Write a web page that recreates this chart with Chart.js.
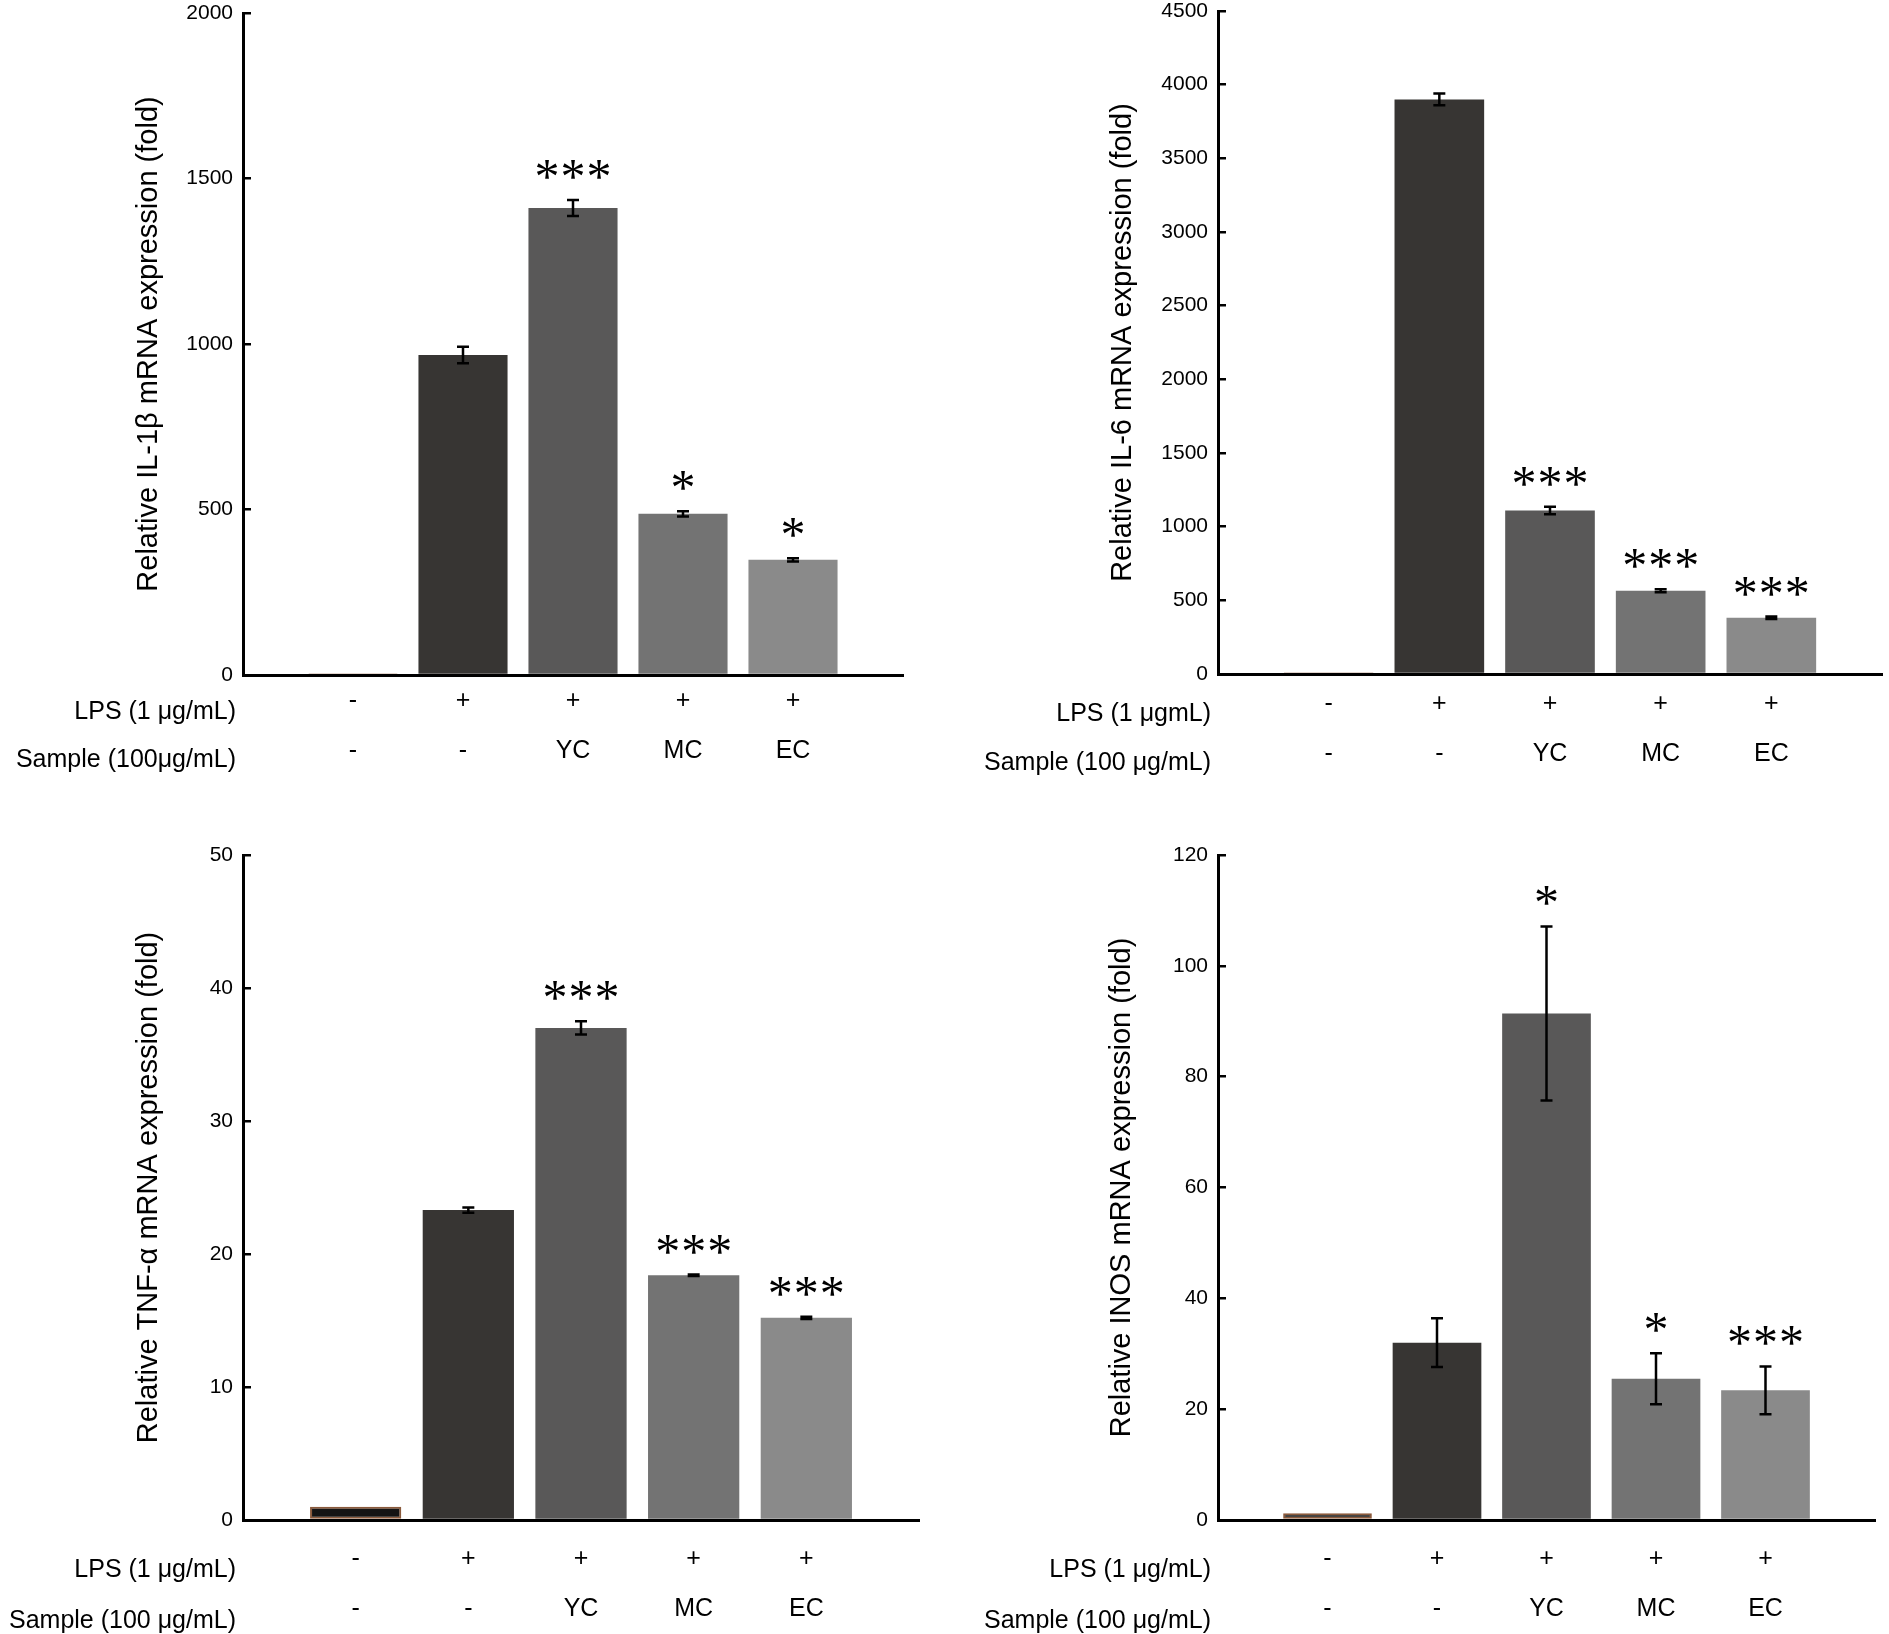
<!DOCTYPE html>
<html>
<head>
<meta charset="utf-8">
<script src="https://cdn.jsdelivr.net/npm/chart.js@4.4.1/dist/chart.umd.min.js"></script>
<style>
    body { margin: 0; background: #fff; width: 1889px; height: 1634px; position: relative; overflow: hidden; }
    .panel { position: absolute; }
</style>
</head>
<body>
<div class="panel" style="left:0;top:0"><canvas id="chart-il1b" width="945" height="810"></canvas></div>
<div class="panel" style="left:945px;top:0"><canvas id="chart-il6" width="944" height="810"></canvas></div>
<div class="panel" style="left:0;top:810px"><canvas id="chart-tnf" width="945" height="824"></canvas></div>
<div class="panel" style="left:945px;top:810px"><canvas id="chart-inos" width="944" height="824"></canvas></div>
<script>
// groups, left to right
const groups = ['Control', 'LPS', 'LPS+YC', 'LPS+MC', 'LPS+EC'];
const lpsRow = ['-', '+', '+', '+', '+'];
const sampleRow = ['-', '-', 'YC', 'MC', 'EC'];
const barColors = ['#141414', '#373533', '#595858', '#737373', '#8a8a8a'];

const il1bValues = [5, 967, 1411, 487, 348];
const il1bErrors = [0, 25, 24, 8, 5];
const il1bStars = ['', '', '***', '*', '*'];
const il1bTicks = [0, 500, 1000, 1500, 2000];

const il6Values = [12, 3900, 1110, 565, 382];
const il6Errors = [0, 40, 25, 10, 8];
const il6Stars = ['', '', '***', '***', '***'];
const il6Ticks = [0, 500, 1000, 1500, 2000, 2500, 3000, 3500, 4000, 4500];

const tnfValues = [1.0, 23.3, 37.0, 18.4, 15.2];
const tnfErrors = [0, 0.2, 0.5, 0.05, 0.08];
const tnfStars = ['', '', '***', '***', '***'];
const tnfTicks = [0, 10, 20, 30, 40, 50];

const inosValues = [1.2, 32.0, 91.4, 25.5, 23.4];
const inosErrors = [0, 4.4, 15.7, 4.6, 4.3];
const inosStars = ['', '', '*', '*', '***'];
const inosTicks = [0, 20, 40, 60, 80, 100, 120];

const sansFamily = '"Liberation Sans", Arial, sans-serif';

// error bars, significance stars and the row titles left of the x labels
const annotatePlugin = {
    id: 'annotate',
    afterDatasetsDraw(chart, _args, opts) {
        const { ctx, chartArea } = chart;
        const yScale = chart.scales.y;
        const xScale = chart.scales.x;
        const meta = chart.getDatasetMeta(0);

        ctx.save();
        meta.data.forEach((bar, i) => {
            const k = i - 1;
            if (k < 0 || k >= opts.values.length) return;
            const value = opts.values[k];
            const err = opts.errors[k];
            const top = yScale.getPixelForValue(value + err);
            const bottom = yScale.getPixelForValue(value - err);

            if (err > 0) {
                ctx.strokeStyle = '#000';
                ctx.lineWidth = 2.5;
                ctx.beginPath();
                ctx.moveTo(bar.x, top);
                ctx.lineTo(bar.x, bottom);
                ctx.moveTo(bar.x - 6, top);
                ctx.lineTo(bar.x + 6, top);
                ctx.moveTo(bar.x - 6, bottom);
                ctx.lineTo(bar.x + 6, bottom);
                ctx.stroke();
            }

            const stars = opts.stars[k];
            if (stars) {
                ctx.fillStyle = '#000';
                ctx.font = '50px "Liberation Serif", "Times New Roman", serif';
                ctx.textAlign = 'center';
                ctx.textBaseline = 'alphabetic';
                const n = stars.length;
                for (let j = 0; j < n; j++) {
                    ctx.fillText('*', bar.x + (j - (n - 1) / 2) * 26, top - 7);
                }
            }
        });

        ctx.fillStyle = '#000';
        ctx.font = '25px ' + sansFamily;
        ctx.textAlign = 'right';
        ctx.textBaseline = 'alphabetic';
        opts.rowTitles.forEach((title, r) => {
            ctx.fillText(title, chartArea.left - 7, xScale.top + opts.rowOffsets[r]);
        });
        ctx.restore();
    },
};

function makeChart(id, cfg) {
    const n = groups.length;
    const labels = ['', ...groups, ''];
    const last = labels.length - 1;

    return new Chart(document.getElementById(id), {
        type: 'bar',
        data: {
            labels,
            datasets: [{
                data: [null, ...cfg.values, null],
                backgroundColor: ['#fff', ...barColors, '#fff'],
                borderColor: labels.map((_, i) => (i === 1 ? '#8a5a3c' : 'rgba(0,0,0,0)')),
                borderWidth: labels.map((_, i) => (i === 1 ? 2 : 0)),
                borderSkipped: false,
                barPercentage: 0.81,
                categoryPercentage: 1,
            }],
        },
        options: {
            responsive: false,
            animation: false,
            layout: { padding: { left: cfg.padLeft, top: cfg.padTop, right: cfg.padRight, bottom: 0 } },
            plugins: {
                legend: { display: false },
                tooltip: { enabled: false },
                annotate: {
                    values: cfg.values,
                    errors: cfg.errors,
                    stars: cfg.stars,
                    rowTitles: cfg.rowTitles,
                    rowOffsets: cfg.rowOffsets,
                },
            },
            scales: {
                x: {
                    offset: false,
                    grid: { display: false, drawTicks: false },
                    border: { display: true, color: '#000', width: 3 },
                    ticks: {
                        autoSkip: false,
                        maxRotation: 0,
                        minRotation: 0,
                        padding: cfg.xTickPad,
                        color: '#000',
                        font: { family: sansFamily, size: 25, lineHeight: 2 },
                        callback: (_v, i) => (i === 0 || i === last || i > n ? '' : [lpsRow[i - 1], sampleRow[i - 1]]),
                    },
                    afterFit: (scale) => { scale.height = cfg.xHeight; },
                },
                y: {
                    min: cfg.ticks[0],
                    max: cfg.ticks[cfg.ticks.length - 1],
                    afterBuildTicks: (scale) => { scale.ticks = cfg.ticks.map((v) => ({ value: v })); },
                    ticks: {
                        padding: 18,
                        color: '#000',
                        font: { family: sansFamily, size: 21 },
                        callback: (v) => String(v),
                    },
                    grid: { drawOnChartArea: false, drawTicks: true, tickLength: -8, color: '#000', lineWidth: 2.5 },
                    border: { display: true, color: '#000', width: 3 },
                    title: {
                        display: true,
                        text: cfg.title,
                        color: '#000',
                        padding: 0,
                        font: { family: sansFamily, size: 29 },
                    },
                    afterFit: (scale) => {
                        scale.width = cfg.yWidth;
                        scale.paddingTop = 0;
                        scale.paddingBottom = 0;
                    },
                },
            },
        },
        plugins: [annotatePlugin],
    });
}

makeChart('chart-il1b', {
    values: il1bValues, errors: il1bErrors, stars: il1bStars, ticks: il1bTicks,
    title: 'Relative IL-1β mRNA expression (fold)',
    rowTitles: ['LPS (1 μg/mL)', 'Sample (100μg/mL)'],
    rowOffsets: [44, 92],
    padLeft: 132, padTop: 13, padRight: 42, yWidth: 111, xHeight: 135, xTickPad: 1,
});

makeChart('chart-il6', {
    values: il6Values, errors: il6Errors, stars: il6Stars, ticks: il6Ticks,
    title: 'Relative IL-6 mRNA expression (fold)',
    rowTitles: ['LPS (1 μgmL)', 'Sample (100 μg/mL)'],
    rowOffsets: [47, 96],
    padLeft: 161, padTop: 11, padRight: 7, yWidth: 112, xHeight: 136, xTickPad: 5,
});

makeChart('chart-tnf', {
    values: tnfValues, errors: tnfErrors, stars: tnfStars, ticks: tnfTicks,
    title: 'Relative TNF-α mRNA expression (fold)',
    rowTitles: ['LPS (1 μg/mL)', 'Sample (100 μg/mL)'],
    rowOffsets: [57, 108],
    padLeft: 132, padTop: 45, padRight: 26, yWidth: 111, xHeight: 114, xTickPad: 14,
});

makeChart('chart-inos', {
    values: inosValues, errors: inosErrors, stars: inosStars, ticks: inosTicks,
    title: 'Relative INOS mRNA expression (fold)',
    rowTitles: ['LPS (1 μg/mL)', 'Sample (100 μg/mL)'],
    rowOffsets: [57, 108],
    padLeft: 160, padTop: 45, padRight: 3, yWidth: 113, xHeight: 114, xTickPad: 14,
});
</script>
</body>
</html>
